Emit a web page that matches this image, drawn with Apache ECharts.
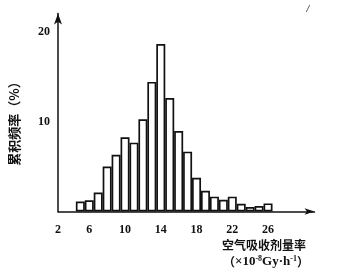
<!DOCTYPE html>
<html><head><meta charset="utf-8">
<script src="https://cdn.jsdelivr.net/npm/echarts@6/dist/echarts.min.js"></script>
<style>html,body{margin:0;padding:0;background:#fff}#c{width:346px;height:275px}</style>
</head><body><div id="c"></div>
<script>
// bin centres (air absorbed dose rate, ×10^-8 Gy·h^-1)
const binCenters = [5,6,7,8,9,10,11,12,13,14,15,16,17,18,19,20,21,22,23,24,25,26];
// frequency (%)
const freq = [1.1,1.25,2.1,5.0,6.3,8.25,7.65,10.25,14.4,18.6,12.6,8.95,6.65,3.75,2.3,1.65,1.3,1.65,0.85,0.5,0.6,0.9];
const xTickValues = [2.5,6,10,14,18,22,26];
const yTickValues = [10,20];
const xMin = 2.5, xMax = 31.2, yMax = 22;

const chart = echarts.init(document.getElementById('c'));
const serif = '"Liberation Serif", "DejaVu Serif", serif';
const cjk = '"Noto Sans CJK SC", sans-serif';
chart.setOption({
  animation: false,
  backgroundColor: '#fff',
  grid: {left: 57, right: 346 - 314.5, top: 13.5, bottom: 63.5},
  xAxis: {
    type: 'value', min: xMin, max: xMax,
    axisLine: {show: true, symbol: ['none','arrow'], symbolSize: [5, 10], lineStyle: {color: '#111', width: 1.5}},
    axisTick: {show: false},
    splitLine: {show: false},
    axisLabel: {customValues: xTickValues, formatter: v => String(Math.floor(v)), margin: 12,
      color: '#111', fontFamily: serif, fontWeight: 'bold', fontSize: 12}
  },
  yAxis: {
    type: 'value', min: 0, max: yMax,
    name: '累积频率（%）', nameLocation: 'middle', nameRotate: 90, nameGap: 37,
    nameTextStyle: {color: '#111', fontFamily: cjk, fontWeight: 'bold', fontSize: 13, padding: [0, 16, 0, 0]},
    axisLine: {show: true, symbol: ['none','arrow'], symbolSize: [6, 11], lineStyle: {color: '#111', width: 1.5}},
    axisTick: {show: false},
    splitLine: {show: false},
    axisLabel: {customValues: yTickValues, margin: 8, color: '#111', fontFamily: serif, fontWeight: 'bold', fontSize: 12}
  },
  series: [{
    type: 'bar',
    data: binCenters.map((c, i) => [c, freq[i]]),
    barWidth: 9,
    itemStyle: {color: '#fff', borderColor: '#111', borderWidth: 1.7}
  }],
  graphic: [
    {type: 'text', x: 264, y: 245, style: {text: '空气吸收剂量率', align: 'center', verticalAlign: 'middle',
      fontFamily: cjk, fontWeight: 'bold', fontSize: 12, fill: '#111'}},
    {type: 'text', x: 266, y: 262, style: {text: '{p|（}{n|×10}{sup|-8}{n|Gy·h}{sup|-1}{p|）}', align: 'center', verticalAlign: 'middle',
      fontFamily: serif, fontWeight: 'bold', fontSize: 13, fill: '#111', rich: {
        p: {fontSize: 12, fontWeight: 'bold', fontFamily: cjk, fill: '#111'},
        n: {fontSize: 13, fontWeight: 'bold', fontFamily: serif, fill: '#111'},
        sup: {fontSize: 8, fontWeight: 'bold', fontFamily: serif, fill: '#111', verticalAlign: 'top', padding: [0,0,6,0]}}}},
    {type: 'text', x: 308, y: 9, style: {text: '/', align: 'center', verticalAlign: 'middle', fontFamily: serif, fontStyle: 'italic', fontWeight: 'bold', fontSize: 10, fill: '#222'}}
  ]
});
</script></body></html>
